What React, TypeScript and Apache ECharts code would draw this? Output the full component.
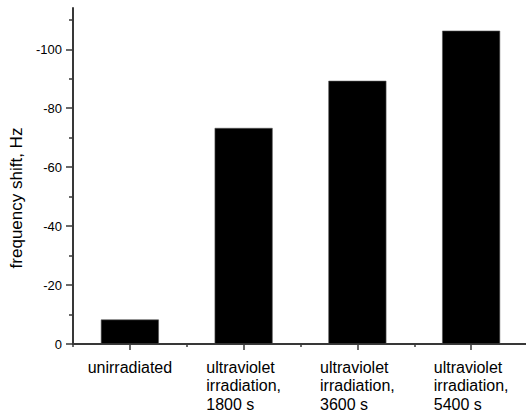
import React, { useEffect, useRef } from "react";
import * as echarts from "echarts";

const categories = [
  "unirradiated",
  "ultraviolet\nirradiation,\n1800 s",
  "ultraviolet\nirradiation,\n3600 s",
  "ultraviolet\nirradiation,\n5400 s",
];
const frequencyShift = [-8.3, -73.3, -89.3, -106.3];
const majorTicks = [-100, -80, -60, -40, -20, 0];
const minorTicks = [-110, -90, -70, -50, -30, -10];
const yTitle = "frequency shift, Hz";

const FONT = "'Liberation Sans', Arial, sans-serif";
const AXIS_COLOR = "#383838";

export default function App() {
  const ref = useRef<HTMLDivElement>(null);
  useEffect(() => {
    if (!ref.current) return;
    const chart = echarts.init(ref.current, null, { renderer: "svg" });
    chart.setOption({
      animation: false,
      backgroundColor: "#ffffff",
      grid: {
        left: 73,
        right: -2,
        top: 8,
        bottom: 70,
        containLabel: false,
        outerBoundsMode: "none",
      },
      xAxis: [
        {
          type: "category",
          position: "bottom",
          data: categories,
          axisLine: {
            show: true,
            onZero: false,
            lineStyle: { color: AXIS_COLOR, width: 2 },
          },
          axisTick: {
            show: true,
            alignWithLabel: true,
            inside: false,
            length: 6,
            lineStyle: { color: AXIS_COLOR, width: 1.5 },
          },
          axisLabel: {
            interval: 0,
            margin: 14,
            color: "#000",
            fontFamily: FONT,
            fontSize: 16,
            lineHeight: 18.5,
            formatter: (v: string) =>
              v
                .split("\n")
                .map((l) => `{l|${l}}`)
                .join("\n"),
            rich: {
              l: {
                align: "left",
                color: "#000",
                fontFamily: FONT,
                fontSize: 16,
                lineHeight: 18.5,
              },
            },
          },
          splitLine: { show: false },
        },
        {
          type: "category",
          position: "bottom",
          data: categories,
          axisLine: { show: false, onZero: false },
          axisTick: {
            show: true,
            alignWithLabel: false,
            length: 3,
            lineStyle: { color: AXIS_COLOR, width: 1.5 },
          },
          axisLabel: { show: false },
          splitLine: { show: false },
        },
      ],
      yAxis: [
        {
          type: "value",
          position: "left",
          min: -114,
          max: 0,
          inverse: true,
          name: yTitle,
          nameLocation: "middle",
          nameRotate: 90,
          nameGap: 37,
          nameTextStyle: {
            color: "#000",
            fontFamily: FONT,
            fontSize: 17,
            padding: [0, 44, 0, 0],
          },
          axisLine: {
            show: true,
            onZero: false,
            lineStyle: { color: AXIS_COLOR, width: 2 },
          },
          axisTick: {
            show: true,
            length: 7,
            customValues: majorTicks,
            lineStyle: { color: AXIS_COLOR, width: 1.5 },
          },
          axisLabel: {
            show: true,
            margin: 11,
            customValues: majorTicks,
            color: "#000",
            fontFamily: FONT,
            fontSize: 13,
          },
          splitLine: { show: false },
        },
        {
          type: "value",
          position: "left",
          min: -114,
          max: 0,
          inverse: true,
          axisLine: { show: false, onZero: false },
          axisTick: {
            show: true,
            length: 4,
            customValues: minorTicks,
            lineStyle: { color: AXIS_COLOR, width: 1.5 },
          },
          axisLabel: { show: false },
          splitLine: { show: false },
        },
      ],
      series: [
        {
          type: "bar",
          xAxisIndex: 0,
          yAxisIndex: 0,
          data: frequencyShift,
          barWidth: 58,
          itemStyle: { color: "#000000", borderColor: "#555", borderWidth: 0.6 },
        },
      ],
    });
    return () => chart.dispose();
  }, []);
  return (
    <div
      ref={ref}
      style={{ position: "fixed", left: 0, top: 0, width: 526, height: 414 }}
    />
  );
}
